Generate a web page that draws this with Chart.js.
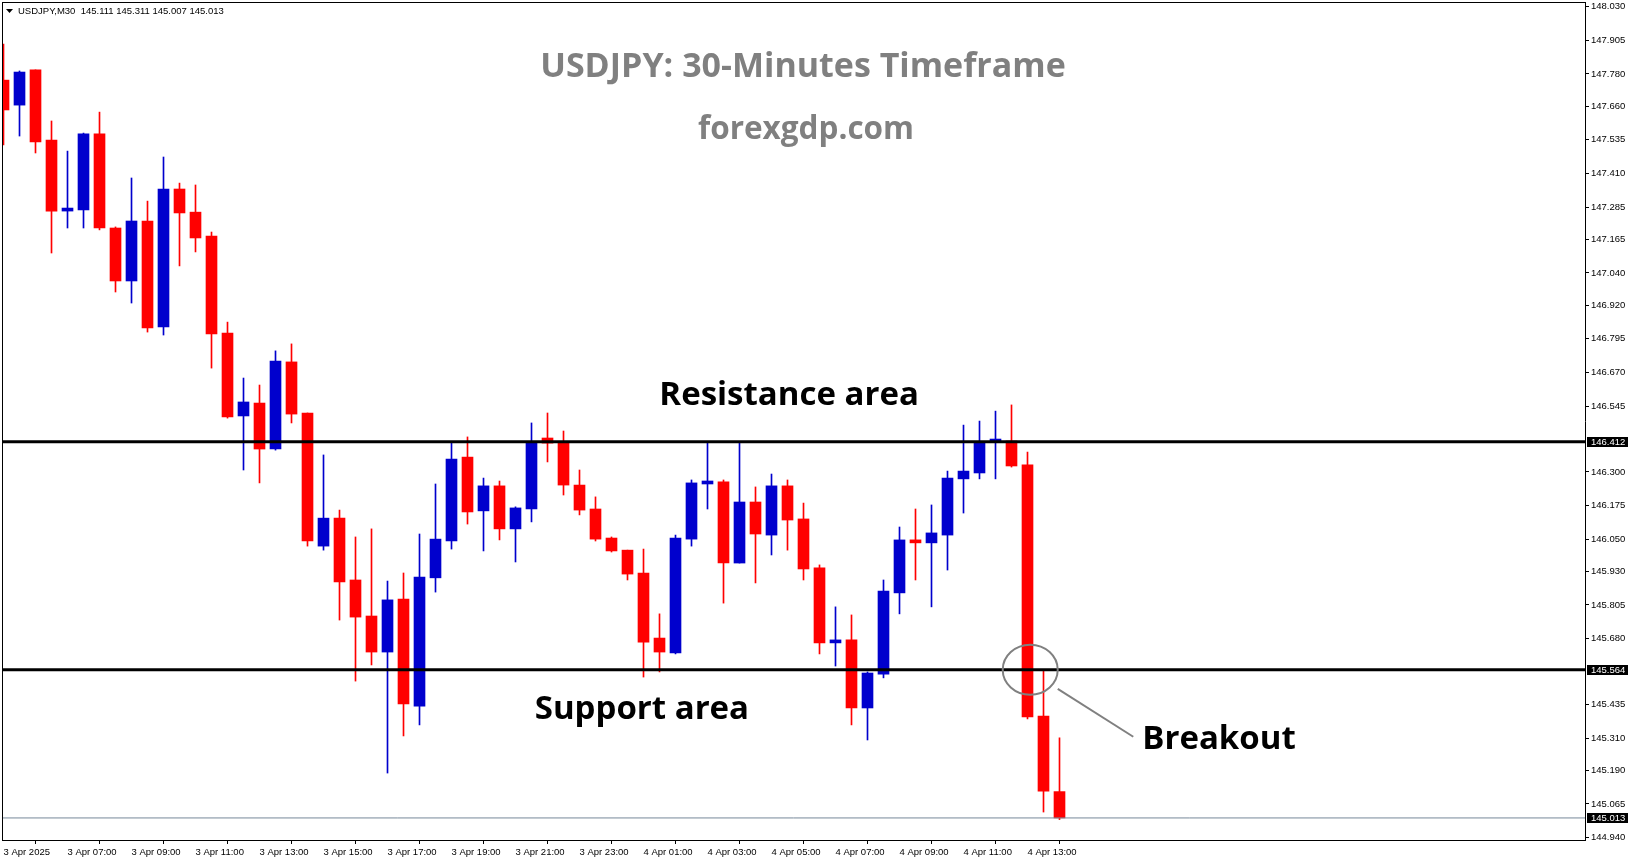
<!DOCTYPE html>
<html>
<head>
<meta charset="utf-8">
<title>USDJPY M30</title>
<script src="https://cdn.jsdelivr.net/npm/chart.js@4.4.1/dist/chart.umd.min.js"></script>
<style>
  html, body { margin: 0; padding: 0; background: #fff; }
  #wrap { width: 1631px; height: 861px; }
</style>
</head>
<body>
<div id="wrap"><canvas id="chart" width="1631" height="861"></canvas></div>
<script>
/* ==========================================================
   USDJPY M30 candles — support / resistance breakout
   ========================================================== */

const SYMBOL = 'USDJPY,M30';

// one entry per 30-minute candle, 3 Apr 05:00 .. 4 Apr 14:00
const OPEN = [147.757, 147.664, 147.795, 147.534, 147.270, 147.274, 147.557, 147.207, 147.010, 147.233,
  146.839, 147.352, 147.266, 147.177, 146.816, 146.508, 146.556, 146.385, 146.709, 146.519,
  146.024, 146.128, 145.898, 145.764, 145.630, 145.827, 145.429, 145.906, 146.043, 146.355,
  146.155, 146.248, 146.088, 146.162, 146.426, 146.411, 146.251, 146.162, 146.054, 146.009,
  145.924, 145.682, 145.627, 146.050, 146.255, 146.263, 145.961, 146.188, 146.065, 146.248,
  146.125, 145.943, 145.664, 145.675, 145.422, 145.548, 145.850, 146.043, 146.036, 146.065,
  146.274, 146.296, 146.411, 146.415, 146.326, 145.392, 145.111];
const HIGH = [147.891, 147.791, 147.795, 147.605, 147.493, 147.560, 147.638, 147.211, 147.393, 147.307,
  147.471, 147.374, 147.367, 147.192, 146.857, 146.649, 146.623, 146.750, 146.776, 146.519,
  146.363, 146.158, 146.058, 146.088, 145.894, 145.924, 146.069, 146.255, 146.411, 146.430,
  146.277, 146.266, 146.170, 146.482, 146.519, 146.452, 146.307, 146.207, 146.058, 146.009,
  146.013, 145.772, 146.065, 146.270, 146.411, 146.270, 146.411, 146.244, 146.292, 146.270,
  146.184, 145.954, 145.798, 145.768, 145.556, 145.898, 146.095, 146.162, 146.177, 146.303,
  146.474, 146.489, 146.526, 146.549, 146.374, 145.560, 145.311];
const LOW = [147.516, 147.549, 147.486, 147.114, 147.207, 147.207, 147.200, 146.969, 146.928, 146.820,
  146.809, 147.066, 147.118, 146.686, 146.500, 146.307, 146.259, 146.381, 146.482, 146.024,
  146.009, 145.749, 145.522, 145.582, 145.180, 145.318, 145.359, 145.853, 146.013, 146.106,
  146.006, 146.047, 145.965, 146.114, 146.337, 146.214, 146.140, 146.043, 146.002, 145.898,
  145.537, 145.556, 145.623, 146.024, 146.162, 145.812, 145.961, 145.887, 145.991, 146.009,
  145.898, 145.623, 145.578, 145.359, 145.303, 145.534, 145.772, 145.898, 145.798, 145.935,
  146.147, 146.274, 146.274, 146.318, 145.381, 145.035, 145.007];
const CLOSE = [147.646, 147.787, 147.527, 147.270, 147.281, 147.557, 147.207, 147.010, 147.233, 146.835,
  147.352, 147.263, 147.170, 146.813, 146.504, 146.560, 146.385, 146.712, 146.515, 146.043,
  146.128, 145.891, 145.760, 145.630, 145.824, 145.437, 145.909, 146.050, 146.348, 146.151,
  146.248, 146.088, 146.166, 146.411, 146.407, 146.251, 146.158, 146.050, 146.006, 145.920,
  145.667, 145.630, 146.054, 146.259, 146.266, 145.961, 146.188, 146.069, 146.248, 146.121,
  145.939, 145.664, 145.675, 145.422, 145.552, 145.857, 146.047, 146.036, 146.073, 146.277,
  146.303, 146.407, 146.419, 146.322, 145.389, 145.113, 145.013];

// time axis: a label every 4 candles (2 hours)
const TIME_STEP = 4;
const TIME_LABELS = ['3 Apr 2025', '3 Apr 07:00', '3 Apr 09:00', '3 Apr 11:00', '3 Apr 13:00', '3 Apr 15:00',
  '3 Apr 17:00', '3 Apr 19:00', '3 Apr 21:00', '3 Apr 23:00', '4 Apr 01:00', '4 Apr 03:00',
  '4 Apr 05:00', '4 Apr 07:00', '4 Apr 09:00', '4 Apr 11:00', '4 Apr 13:00'];

const PRICE_TICKS = [148.030, 147.905, 147.780, 147.660, 147.535, 147.410, 147.285, 147.165, 147.040,
  146.920, 146.795, 146.670, 146.545, 146.300, 146.175, 146.050, 145.930, 145.805, 145.680,
  145.435, 145.310, 145.190, 145.065, 144.940];

const RESISTANCE = 146.412;
const SUPPORT = 145.564;

// visible window
const X_MIN = -0.094, X_MAX = 98.844;
const Y_MIN = 144.931, Y_MAX = 148.0475;

// annotation anchors, in candle index / price
const NOTES = [
  { text: 'Resistance area', x: 49.1, y: 146.549 },
  { text: 'Support area', x: 39.9, y: 145.381 },
  { text: 'Breakout', x: 75.97, y: 145.269 },
];
const BREAK_RING = { x: 64.17, y: SUPPORT };
const BREAK_LINK = [{ x: 65.89, y: 145.493 }, { x: 70.61, y: 145.315 }];

const UP = '#0000CD';
const DOWN = '#FF0000';
const AXIS_FONT = { family: 'Liberation Sans', size: 9.5 };

const last = OPEN.length - 1;
const idx = OPEN.map((_, i) => i);
const candleColor = idx.map(i => CLOSE[i] >= OPEN[i] ? UP : DOWN);

function levelLine(value, color, width) {
  return {
    type: 'line', order: 0, clip: 0,
    data: [{ x: X_MIN, y: value }, { x: X_MAX, y: value }],
    borderColor: color, borderWidth: width, pointRadius: 0,
  };
}

const overlay = {
  id: 'overlay',
  afterDraw(chart) {
    const { ctx, chartArea: a, scales: { x, y } } = chart;
    ctx.save();

    // plot frame (left + top; bottom/right come from the axes)
    ctx.fillStyle = '#000';
    ctx.fillRect(a.left, a.top, a.right - a.left, 1);
    ctx.fillRect(a.left, a.top, 1, a.bottom - a.top);

    // header line
    ctx.beginPath();
    ctx.moveTo(6, 9); ctx.lineTo(13, 9); ctx.lineTo(9.5, 13); ctx.closePath();
    ctx.fill();
    ctx.font = '9.5px "Liberation Sans"';
    ctx.textAlign = 'left';
    ctx.textBaseline = 'alphabetic';
    const ohlc = [OPEN[last], HIGH[last], LOW[last], CLOSE[last]].map(v => v.toFixed(3)).join(' ');
    ctx.fillText(`${SYMBOL}  ${ohlc}`, 18, 14);

    // price boxes on the axis
    ctx.textBaseline = 'middle';
    [RESISTANCE, SUPPORT, CLOSE[last]].forEach(v => {
      const py = Math.round(y.getPixelForValue(v));
      ctx.fillStyle = '#000';
      ctx.fillRect(a.right + 2, py - 5, 41, 10);
      ctx.fillStyle = '#fff';
      ctx.fillText(v.toFixed(3), a.right + 6, py);
    });

    // titles
    ctx.textAlign = 'center';
    ctx.textBaseline = 'alphabetic';
    ctx.fillStyle = '#808080';
    ctx.font = 'bold 34px "Open Sans"';
    ctx.fillText('USDJPY: 30-Minutes Timeframe', 803, 77);
    ctx.font = 'bold 31.5px "Open Sans"';
    ctx.fillText('forexgdp.com', 806, 139);

    // notes
    ctx.fillStyle = '#000';
    ctx.font = 'bold 33px "Open Sans"';
    NOTES.forEach(n => ctx.fillText(n.text, x.getPixelForValue(n.x), y.getPixelForValue(n.y)));

    // breakout ring + pointer
    ctx.strokeStyle = '#808080';
    ctx.lineWidth = 2;
    ctx.beginPath();
    ctx.ellipse(x.getPixelForValue(BREAK_RING.x), y.getPixelForValue(BREAK_RING.y), 27.5, 25, 0, 0, Math.PI * 2);
    ctx.stroke();
    ctx.beginPath();
    ctx.moveTo(x.getPixelForValue(BREAK_LINK[0].x), y.getPixelForValue(BREAK_LINK[0].y));
    ctx.lineTo(x.getPixelForValue(BREAK_LINK[1].x), y.getPixelForValue(BREAK_LINK[1].y));
    ctx.stroke();

    ctx.restore();
  },
};

new Chart(document.getElementById('chart'), {
  type: 'bar',
  data: {
    datasets: [
      levelLine(RESISTANCE, '#000', 3),
      levelLine(SUPPORT, '#000', 3),
      levelLine(CLOSE[last], '#778899', 1),
      {
        label: 'body', order: 1, clip: 0, grouped: false,
        data: idx.map(i => ({ x: i, y: [OPEN[i], CLOSE[i]] })),
        backgroundColor: candleColor, borderWidth: 0, borderSkipped: false,
        barThickness: 11, minBarLength: 3,
      },
      {
        label: 'wick', order: 2, clip: 0, grouped: false,
        data: idx.map(i => ({ x: i, y: [LOW[i], HIGH[i]] })),
        backgroundColor: candleColor, borderWidth: 0, borderSkipped: false,
        barThickness: 1,
      },
    ],
  },
  options: {
    responsive: false,
    devicePixelRatio: 1,
    animation: false,
    layout: { padding: { left: 2, top: 2, right: 0, bottom: 0 } },
    plugins: { legend: { display: false }, tooltip: { enabled: false }, title: { display: false } },
    scales: {
      x: {
        type: 'linear', min: X_MIN, max: X_MAX, offset: false,
        grid: { drawOnChartArea: false, drawTicks: true, tickLength: 4, color: '#000' },
        border: { color: '#000', width: 1 },
        ticks: {
          autoSkip: false, maxRotation: 0, minRotation: 0, align: 'start', padding: 3,
          color: '#000', font: AXIS_FONT,
          callback: v => TIME_LABELS[Math.round(v / TIME_STEP)],
        },
        afterBuildTicks: s => { s.ticks = TIME_LABELS.map((_, k) => ({ value: k * TIME_STEP })); },
        afterFit: s => { s.height = 21; s.paddingLeft = 0; s.paddingRight = 0; },
      },
      y: {
        type: 'linear', position: 'right', min: Y_MIN, max: Y_MAX, beginAtZero: false,
        grid: { drawOnChartArea: false, drawTicks: true, tickLength: 4, color: '#000' },
        border: { color: '#000', width: 1 },
        ticks: {
          autoSkip: false, padding: 2, color: '#000', font: AXIS_FONT,
          callback: v => v.toFixed(3),
        },
        afterBuildTicks: s => { s.ticks = PRICE_TICKS.map(v => ({ value: v })); },
        afterFit: s => { s.width = 46; s.paddingTop = 0; s.paddingBottom = 0; },
      },
    },
  },
  plugins: [overlay],
});
</script>
</body>
</html>
